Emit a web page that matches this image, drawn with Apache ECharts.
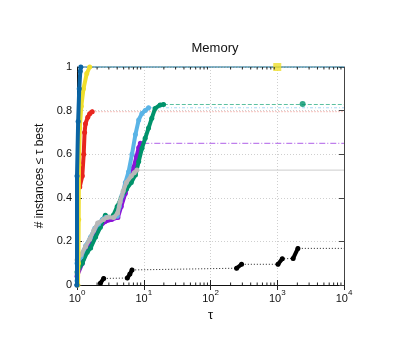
<!DOCTYPE html>
<html><head><meta charset="utf-8">
<script src="https://cdn.jsdelivr.net/npm/echarts@6/dist/echarts.min.js"></script>
<style>html,body{margin:0;padding:0;background:#fff}#c{width:407px;height:352px}</style>
</head><body><div id="c"></div>
<script>
// ---- axis / tick definitions ----
const TAU_MIN = 1, TAU_MAX = 10000;
const yTickLabels = ['0', '0.2', '0.4', '0.6', '0.8', '1'];
const xTickExponents = [0, 1, 2, 3, 4];
const minorTickMultipliers = [2, 3, 4, 5, 6, 7, 8, 9];

// ---- series data: [tau, fraction]; null = gap in the thick curve ----
const darkBlue = [[1, 0], [1, 0.5], [1.04, 0.75], [1.08, 0.9], [1.12, 0.98], [1.14, 1]];
const yellow = [[1.03, 0], [1.05, 0.1], [1.06, 0.3], [1.07, 0.55], [1.1, 0.72], [1.16, 0.82], [1.25, 0.9], [1.4, 0.97], [1.55, 1]];
const yellowEnd = [[1000, 1]];
const red = [[1.1, 0.45], [1.2, 0.5], [1.26, 0.6], [1.3, 0.7], [1.34, 0.74], [1.45, 0.77], [1.55, 0.785], [1.69, 0.795]];
const lightBlue = [[1, 0.02], [1, 0.1], [1.15, 0.13], [1.35, 0.18], [1.6, 0.22], [1.85, 0.26], [2.1, 0.28], [2.4, 0.3], [2.7, 0.31], null,
  [4.0, 0.315], [4.3, 0.36], [4.73, 0.41], [5.3, 0.47], [5.93, 0.52], [6.67, 0.6], [7.5, 0.69], [8.4, 0.757], [9.4, 0.787], [10.5, 0.8], [11.8, 0.813]];
const green = [[1, 0], [1, 0.06], [1.2, 0.1], [1.42, 0.15], [1.6, 0.17], [1.9, 0.22], [2.24, 0.265], [2.45, 0.3], [2.66, 0.32], null,
  [3.5, 0.32], [4.0, 0.36], [4.6, 0.4], [5.5, 0.44], [6.5, 0.47], [7.5, 0.505], [8.4, 0.566], [9.4, 0.627], [10.5, 0.673], [11.8, 0.72], [13.2, 0.765], [14.8, 0.81], [17.6, 0.826], [19.8, 0.828]];
const greenEnd = [[2400, 0.83]];
const purple = [[1, 0], [1, 0.04], [1.2, 0.1], [1.4, 0.16], [1.75, 0.23], [2.1, 0.26], [2.6, 0.29], [3.3, 0.3], [4.1, 0.31], [4.6, 0.36], [5.3, 0.42], [6.0, 0.47], [6.6, 0.5], [7.06, 0.54], [7.8, 0.59], [8.4, 0.63], [8.9, 0.65]];
const gray = [[1, 0.05], [1, 0.115], [1.15, 0.14], [1.34, 0.176], [1.55, 0.21], [1.78, 0.25], [2.04, 0.284], [2.5, 0.3], [2.8, 0.31], [3.55, 0.31], [4.06, 0.33], [4.4, 0.38], [4.9, 0.43], [5.5, 0.47], [6.5, 0.5], [7.2, 0.515], [7.9, 0.527]];
const black = [[2.24, 0.008], [2.51, 0.03], null, [5.67, 0.032], [6.2, 0.05], [6.67, 0.069], null, [246, 0.077], [292, 0.095], null,
  [1026, 0.095], [1190, 0.12], null, [1730, 0.122], [2040, 0.168]];

// ---- styles ----
const profiles = [
  { data: purple,    color: '#8a12d8', tail: [6, 2, 1, 2],      tailColor: '#b060e8' },
  { data: green,     color: '#00936b', tail: [4, 2],            tailColor: '#5cc0a0' },
  { data: lightBlue, color: '#5ab4e6', tail: [3, 2, 1, 2],      tailColor: '#a8d8f4' },
  { data: gray,      color: '#b8b8b8', tail: 'solid',           tailColor: '#cccccc' },
  { data: red,       color: '#e8251e', tail: [1, 2],            tailColor: '#f08a80' },
  { data: yellow,    color: '#efde2c', tail: [1, 2],            tailColor: '#efde2c' },
  { data: darkBlue,  color: '#0a64a4', tail: 'solid',           tailColor: '#0a64a4' },
  { data: black,     color: '#000000', tail: [1, 2],            tailColor: '#222222' }
];

function segments(pts) {
  const segs = []; let cur = [];
  pts.forEach(p => { if (p === null) { if (cur.length) segs.push(cur); cur = []; } else cur.push(p); });
  if (cur.length) segs.push(cur);
  return segs;
}

const series = [];
profiles.forEach((pr, i) => {
  const pts = pr.data.filter(p => p !== null);
  const last = pts[pts.length - 1];
  series.push({
    type: 'line', data: pts.concat([[TAU_MAX, last[1]]]), symbol: 'none', clip: false, z: 2,
    lineStyle: { width: 1, type: pr.tail, color: pr.tailColor }, silent: true
  });
  segments(pr.data).forEach(seg => {
    series.push({
      type: 'line', data: seg, clip: false, z: 3 + i,
      symbol: 'circle', symbolSize: 5, showSymbol: true,
      itemStyle: { color: pr.color },
      lineStyle: { width: 4, color: pr.color, cap: 'round', join: 'round' }
    });
  });
});
series.push({ type: 'scatter', data: greenEnd, symbol: 'circle', symbolSize: 6, itemStyle: { color: '#00936b' }, z: 20, clip: false });
series.push({ type: 'scatter', data: yellowEnd, symbol: 'rect', symbolSize: 8, itemStyle: { color: '#efde2c' }, z: 20, clip: false });

// minor log ticks (axis decoration)
const minorTicks = [];
xTickExponents.slice(0, -1).forEach(e => minorTickMultipliers.forEach(m => minorTicks.push([m * Math.pow(10, e), 0])));
series.push({
  type: 'custom', data: minorTicks, clip: false, z: 30, silent: true,
  renderItem: (params, api) => {
    const b = api.coord([api.value(0), 0]);
    const t = api.coord([api.value(0), 1]);
    const st = { stroke: '#222', lineWidth: 1 };
    return { type: 'group', children: [
      { type: 'line', shape: { x1: b[0], y1: b[1], x2: b[0], y2: b[1] - 2.5 }, style: st },
      { type: 'line', shape: { x1: t[0], y1: t[1], x2: t[0], y2: t[1] + 2.5 }, style: st }
    ] };
  }
});

const FONT = 'Liberation Sans';
const gridLine = { show: true, lineStyle: { color: '#cfcfcf', type: [1, 2], width: 1 } };
const chart = echarts.init(document.getElementById('c'), null, { renderer: 'canvas' });
chart.setOption({
  animation: false,
  backgroundColor: '#fff',
  textStyle: { fontFamily: FONT },
  title: { text: 'Memory', left: 210, top: 37, textAlign: 'center',
    textStyle: { fontFamily: FONT, fontSize: 13, fontWeight: 'normal', color: '#111' } },
  grid: { left: 77, right: 63, top: 67, bottom: 67 },
  xAxis: [{
    type: 'log', logBase: 10, min: TAU_MIN, max: TAU_MAX,
    name: 'τ', nameLocation: 'middle', nameGap: 20,
    nameTextStyle: { fontFamily: FONT, fontSize: 13, color: '#111' },
    axisLine: { show: true, onZero: false, lineStyle: { color: '#333', width: 1 } },
    axisTick: { show: true, inside: true, length: 5, lineStyle: { color: '#222' } },
    splitLine: gridLine,
    axisLabel: {
      margin: 4, color: '#111',
      formatter: v => '{b|10}{s|' + Math.round(Math.log10(v)) + '}',
      rich: { b: { fontSize: 11, fontFamily: FONT, color: '#111', padding: [4, 0, 0, 0] },
              s: { fontSize: 8, fontFamily: FONT, color: '#111', verticalAlign: 'top', padding: [0, 0, 6, 0] } }
    }
  }, {
    type: 'log', logBase: 10, min: TAU_MIN, max: TAU_MAX, position: 'top',
    axisLine: { show: true, lineStyle: { color: '#111', width: 1 } },
    axisTick: { show: true, inside: true, length: 5, lineStyle: { color: '#222' } },
    axisLabel: { show: false }, splitLine: { show: false }
  }],
  yAxis: [{
    type: 'value', min: 0, max: 1, interval: 0.2,
    name: '# instances ≤ τ best', nameLocation: 'middle', nameGap: 21,
    nameTextStyle: { fontFamily: FONT, fontSize: 12, color: '#111' },
    axisLine: { show: true, lineStyle: { color: '#111', width: 1 } },
    axisTick: { show: true, inside: true, length: 5, lineStyle: { color: '#222' } },
    splitLine: gridLine,
    axisLabel: { margin: 5, fontSize: 11, color: '#111', fontFamily: FONT,
      formatter: v => yTickLabels[Math.round(v * 5)] }
  }, {
    type: 'value', min: 0, max: 1, interval: 0.2, position: 'right',
    axisLine: { show: true, lineStyle: { color: '#444', width: 1 } },
    axisTick: { show: true, inside: true, length: 5, lineStyle: { color: '#444' } },
    axisLabel: { show: false }, splitLine: { show: false }
  }],
  series: series
});
</script></body></html>
